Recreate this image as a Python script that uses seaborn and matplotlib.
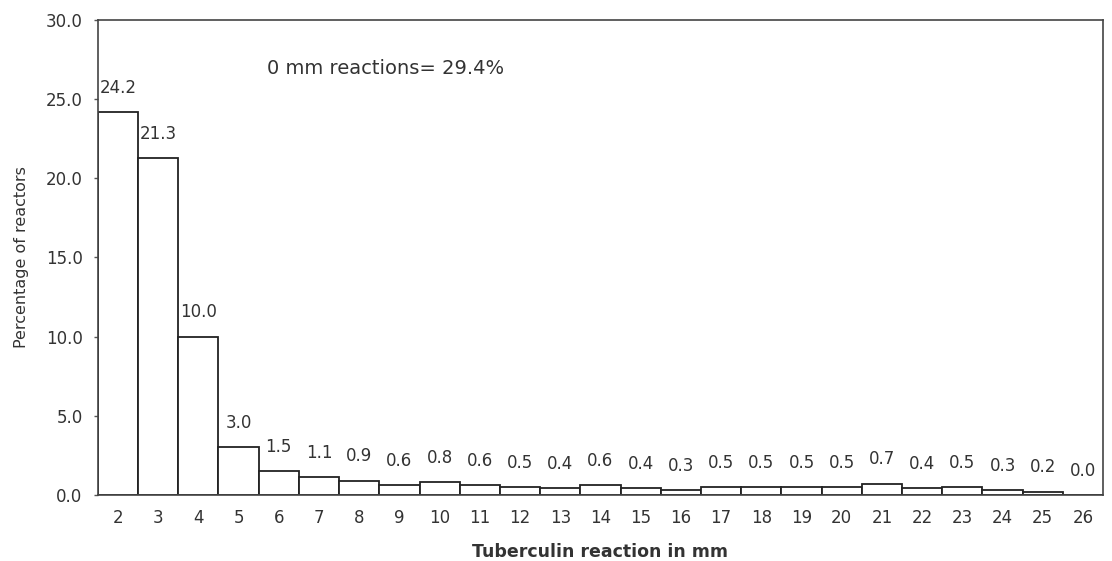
import matplotlib
matplotlib.use("Agg")
import matplotlib.pyplot as plt
import seaborn as sns
import pandas as pd

# reaction size (mm) and percentage of reactors
reaction_mm = [2, 3, 4, 5, 6, 7, 8, 9, 10, 11, 12, 13, 14, 15, 16, 17, 18, 19, 20, 21, 22, 23, 24, 25, 26]
percent = [24.2, 21.3, 10.0, 3.0, 1.5, 1.1, 0.9, 0.6, 0.8, 0.6, 0.5, 0.4, 0.6, 0.4, 0.3,
           0.5, 0.5, 0.5, 0.5, 0.7, 0.4, 0.5, 0.3, 0.2, 0.0]
y_ticks = [0, 5, 10, 15, 20, 25, 30]
note = "0 mm reactions= 29.4%"

sns.set_style("white")
plt.rcParams['font.family'] = ['DejaVu Sans']
txt = "#333333"

df = pd.DataFrame({"mm": [str(m) for m in reaction_mm], "pct": percent})

fig = plt.figure(figsize=(11.12, 5.61), dpi=100)
ax = fig.add_axes([0.088, 0.118, 0.904, 0.846])
sns.barplot(data=df, x="mm", y="pct", color="white", edgecolor="#222222",
            linewidth=1.3, width=1.0, ax=ax)

for i, v in enumerate(percent):
    ax.annotate(f"{v:.1f}", xy=(i, v), xytext=(0, 11), textcoords="offset points",
                ha="center", va="bottom", fontsize=12, color=txt)

ax.set_xlim(-0.5, len(reaction_mm) - 0.5)
ax.set_ylim(0, 30)
ax.set_yticks(y_ticks)
ax.set_yticklabels([f"{t:.1f}" for t in y_ticks], fontsize=12, color=txt)
ax.tick_params(axis="y", left=True, length=3, width=1, color="#555555", pad=8)
ax.tick_params(axis="x", bottom=False, labelsize=12, labelcolor=txt, pad=7)

for s in ax.spines.values():
    s.set_color("#444444")
    s.set_linewidth(1.2)

ax.set_xlabel("Tuberculin reaction in mm", fontsize=12.5, fontweight="bold", color=txt, labelpad=11)
ax.set_ylabel("Percentage of reactors", fontsize=11.5, color=txt, labelpad=12)
ax.text(0.168, 0.899, note, transform=ax.transAxes, fontsize=14, color=txt, va="center")

fig.savefig("out.png", dpi=100)
